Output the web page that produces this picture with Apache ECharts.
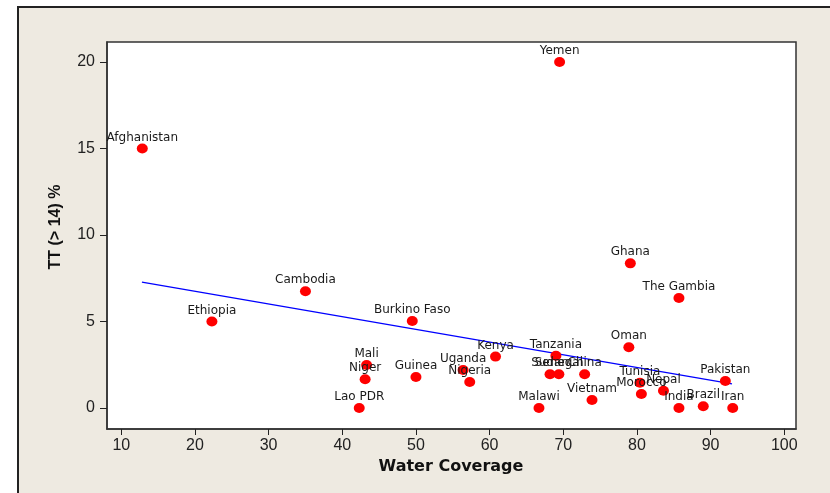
<!DOCTYPE html>
<html>
<head>
<meta charset="utf-8">
<script src="https://cdn.jsdelivr.net/npm/echarts@6/dist/echarts.min.js"></script>
<style>
  html, body { margin: 0; padding: 0; background: #ffffff; }
  #frame { position: absolute; left: 17px; top: 6px; width: 900px; height: 600px;
           background: #EEEAE1; border: 2px solid #222; box-sizing: border-box; }
  #chart { position: absolute; left: 0; top: 0; width: 830px; height: 493px; }
  body { width: 830px; height: 493px; overflow: hidden; position: relative; }
</style>
</head>
<body>
<div id="frame"></div>
<div id="chart"></div>
<script>
// ---- data ----
const countries = ['Afghanistan','Ethiopia','Cambodia','Lao PDR','Niger','Mali','Burkino Faso','Guinea','Uganda','Nigeria','Kenya','Malawi','Sudan','Tanzania','Senegal','China','Vietnam','Yemen','Oman','Ghana','Tunisia','Morocco','Nepal','India','The Gambia','Brazil','Pakistan','Iran'];
const waterCoverage = [12.85, 22.3, 35.0, 42.3, 43.1, 43.3, 49.5, 50.0, 56.4, 57.3, 60.8, 66.7, 68.2, 69.0, 69.4, 72.9, 73.9, 69.5, 78.9, 79.1, 80.4, 80.6, 83.6, 85.7, 85.7, 89.0, 92.0, 93.0];
const ttPercent = [15.0, 5.0, 6.75, 0.0, 1.66, 2.49, 5.03, 1.79, 2.2, 1.5, 2.97, 0.0, 1.95, 3.02, 1.95, 1.95, 0.46, 20.0, 3.51, 8.36, 1.46, 0.81, 1.0, 0.0, 6.36, 0.1, 1.56, 0.0];
const trendX = [12.8, 92.9];
const trendY = [7.27, 1.39];
const xTicks = [10, 20, 30, 40, 50, 60, 70, 80, 90, 100];
const yTicks = [0, 5, 10, 15, 20];
const xTitle = 'Water Coverage';
const yTitle = 'TT (> 14) %';

const points = countries.map((c, i) => ({ name: c, value: [waterCoverage[i], ttPercent[i]] }));
const trend = trendX.map((x, i) => [x, trendY[i]]);

const chart = echarts.init(document.getElementById('chart'), null, { renderer: 'canvas' });
const tickFont = { color: '#222', fontSize: 16, fontFamily: 'Liberation Sans, Arial, sans-serif' };

chart.setOption({
  animation: false,
  backgroundColor: 'transparent',
  grid: { left: 107, top: 42, width: 689, height: 387, show: true,
          backgroundColor: '#ffffff', borderColor: '#333', borderWidth: 1.5 },
  xAxis: {
    type: 'value', min: 8.06, max: 101.59,
    splitLine: { show: false },
    axisLine: { show: true, onZero: false, lineStyle: { color: '#333', width: 1.5 } },
    axisTick: { show: true, length: 6, customValues: xTicks, lineStyle: { color: '#222', width: 1 } },
    axisLabel: Object.assign({ margin: 9, customValues: xTicks, showMinLabel: true, showMaxLabel: true }, tickFont)
  },
  yAxis: {
    type: 'value', min: -1.214, max: 21.156,
    splitLine: { show: false },
    axisLine: { show: true, onZero: false, lineStyle: { color: '#333', width: 1.5 } },
    axisTick: { show: true, length: 7, customValues: yTicks, lineStyle: { color: '#222', width: 1 } },
    axisLabel: Object.assign({ margin: 12, customValues: yTicks }, tickFont)
  },
  graphic: [
    { type: 'text', x: 451, y: 467, style: { text: xTitle, fill: '#111',
      font: 'bold 16px "DejaVu Sans", sans-serif', textAlign: 'center', textVerticalAlign: 'middle' } },
    { type: 'text', x: 56, y: 227, rotation: Math.PI / 2, style: { text: yTitle, fill: '#111',
      font: 'bold 16px "Liberation Sans", Arial, sans-serif', textAlign: 'center', textVerticalAlign: 'middle' } }
  ],
  series: [
    {
      type: 'line', data: trend, symbol: 'none', silent: true,
      lineStyle: { color: '#0000FF', width: 1.3 }, z: 2
    },
    {
      type: 'scatter', data: points, symbol: 'circle', symbolSize: [11, 10],
      itemStyle: { color: '#FF0000', opacity: 1 }, z: 3,
      label: { show: true, position: 'top', distance: 0, formatter: '{b}',
               color: '#1a1a1a', fontSize: 12, fontFamily: '"DejaVu Sans", sans-serif' },
      labelLayout: { hideOverlap: false }
    }
  ]
});
</script>
</body>
</html>
